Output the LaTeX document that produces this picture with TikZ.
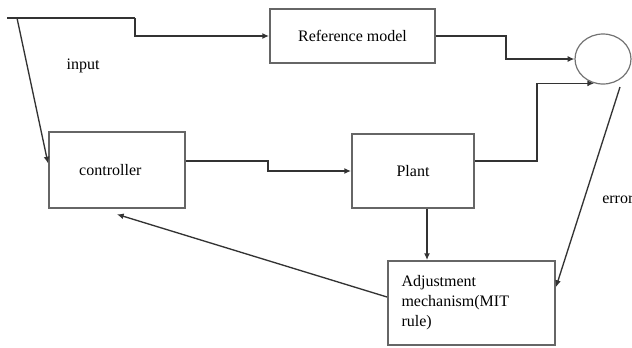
\documentclass[tikz,border=0pt]{standalone}
\usepackage{fontspec}
\setmainfont{Liberation Serif}
\usetikzlibrary{arrows.meta,shapes.geometric}

\begin{document}
\begin{tikzpicture}[
        x=0.75pt, y=-0.75pt,
        block/.style={rectangle, draw=black!60, line width=1.5pt, inner sep=0pt, font=\fontsize{12}{15}\selectfont},
        summer/.style={ellipse, draw=black!55, line width=0.9pt, minimum width=42pt, minimum height=37.5pt, inner sep=0pt},
        conn/.style={draw=black!80, line width=1pt},
        arr/.style={conn, -{Latex[length=5pt,width=4.5pt]}},
        txt/.style={font=\fontsize{12}{15}\selectfont}
    ]
        \useasboundingbox (0,0) rectangle (632,347);

        % Blocks
        \node[block, minimum width=123.75pt, minimum height=40.5pt] (refmodel) at (352.5,36) {Reference model};
        \node[block, minimum width=102pt, minimum height=57pt] (ctrl) at (117,170) {\hspace{-10pt}controller};
        \node[block, minimum width=91.5pt, minimum height=55.5pt] (plant) at (413,171) {Plant};
        \node[block, minimum width=125.25pt, minimum height=63pt, text width=105pt, align=left] (adj) at (471.5,303)
            {Adjustment\\mechanism(MIT\\rule)};
        \node[summer] (sum) at (603,59) {};

        % Input
        \coordinate (in) at (7,18);
        \coordinate (split) at (17,18);
        \node[txt] (inlabel) at (83,66) {input};
        \draw[conn] (in) -- (135,18);
        \draw[arr] (135,18) |- (refmodel.west);
        \draw[arr] (split) -- ([yshift=5pt]ctrl.west);

        % Forward path
        \draw[arr] ([yshift=6.75pt]ctrl.east) -- (268,161) |- (plant.west);
        \draw[arr] (refmodel.east) -- (506,36) |- (sum.west);
        \draw[arr] ([yshift=7.5pt]plant.east) -- (537,161) |- (sum.250);

        % Adaptation loop
        \coordinate (pdown) at ([xshift=10.5pt]plant.south);
        \draw[arr] (pdown) -- (pdown |- adj.north);
        \coordinate (errstart) at (620,87);
        \draw[arr] (errstart) -- ([yshift=12pt]adj.east);
        \node[txt, anchor=west, inner sep=0pt] (errlabel) at (602,200) {error};
        \draw[arr] ([yshift=4.5pt]adj.west) -- ([yshift=-4pt]ctrl.south);

    \end{tikzpicture}
\end{document}
